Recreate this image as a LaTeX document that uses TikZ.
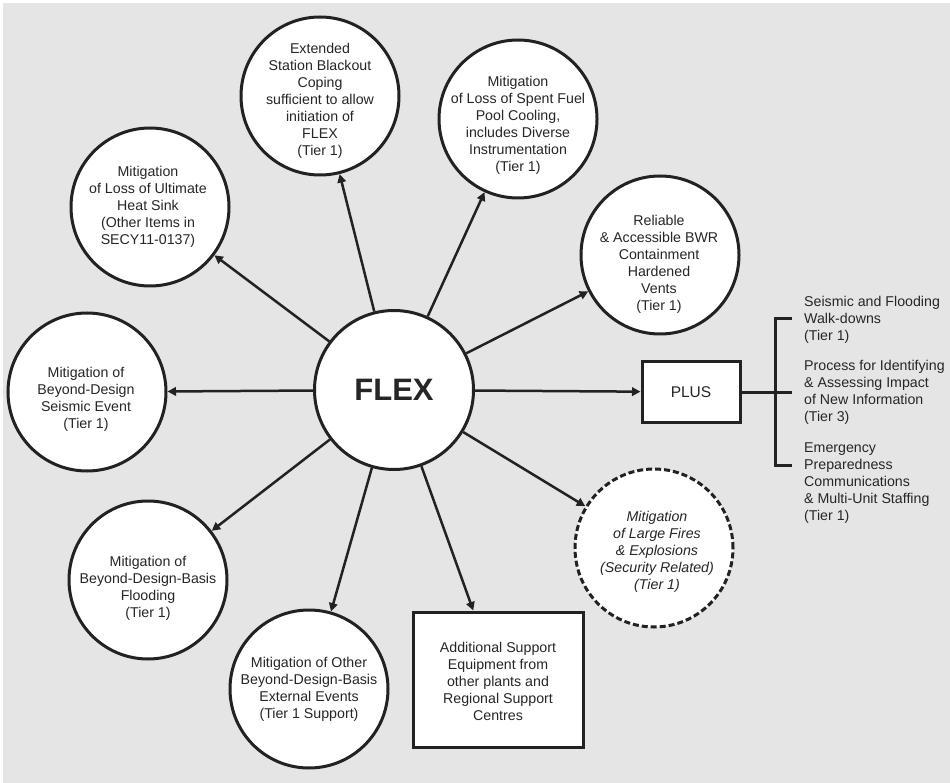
\documentclass[tikz,border=0pt]{standalone}
\usepackage{fontspec}
\setmainfont{Liberation Sans}
\usetikzlibrary{arrows.meta}
\definecolor{bg}{HTML}{E5E5E5}
\definecolor{linec}{HTML}{222222}
\definecolor{textc}{HTML}{262626}
\begin{document}
\begin{tikzpicture}[x=1pt,y=-1pt,
  circ/.style={circle, draw=linec, line width=3pt, fill=white, minimum size=158pt, inner sep=0pt},
  dcirc/.style={circ, dash pattern=on 6pt off 3pt},
  boxn/.style={rectangle, draw=linec, line width=3pt, fill=white, inner sep=0pt},
  txt/.style={font=\fontsize{14.2}{17}\selectfont, text=textc, align=center, inner sep=0pt},
  rtxt/.style={font=\fontsize{14.2}{17}\selectfont, text=textc, align=left, inner sep=0pt, anchor=north west},
  arr/.style={draw=linec, line width=2.5pt, -{Triangle[length=8.5pt,width=8.5pt]}},
  brk/.style={draw=linec, line width=3pt}
]
\useasboundingbox (0,0) rectangle (950,783);
\fill[bg] (3,3) rectangle (950,783);

% central node
\node[circ, minimum size=159pt, font=\fontsize{31}{36}\selectfont\bfseries, text=textc] (flex) at (394,390) {FLEX};

% outer circles
\node[circ] (ext) at (320,96) {};
\node[circ] (heat) at (150,207) {};
\node[circ] (seis) at (87,392) {};
\node[circ] (spent) at (518,119) {};
\node[circ] (bwr) at (660,255) {};
\node[dcirc] (fires) at (654,548) {};
\node[circ] (flood) at (148,580) {};
\node[circ] (other) at (309,689) {};
\node[boxn, minimum width=170pt, minimum height=135pt] (addl) at (498,679.5) {};
\node[boxn, minimum width=98pt, minimum height=61pt, font=\fontsize{15.5}{18}\selectfont, text=textc] (plus) at (691,392) {PLUS};

% texts
\node[txt] (ext-t) at (320,101) {Extended\\Station Blackout\\Coping\\sufficient to allow\\initiation of\\FLEX\\(Tier 1)};
\node[txt] (heat-t) at (148,207) {Mitigation\\of Loss of Ultimate\\Heat Sink\\(Other Items in\\SECY11-0137)};
\node[txt] (seis-t) at (86,399) {Mitigation of\\Beyond-Design\\Seismic Event\\(Tier 1)};
\node[txt] (spent-t) at (518,125) {Mitigation\\of Loss of Spent Fuel\\Pool Cooling,\\includes Diverse\\Instrumentation\\(Tier 1)};
\node[txt] (bwr-t) at (659,264) {Reliable\\\& Accessible BWR\\Containment\\Hardened\\Vents\\(Tier 1)};
\node[txt, font=\fontsize{14.2}{17}\selectfont\itshape] (fires-t) at (657,552) {Mitigation\\of Large Fires\\\& Explosions\\(Security Related)\\(Tier 1)};
\node[txt] (flood-t) at (148,588) {Mitigation of\\Beyond-Design-Basis\\Flooding\\(Tier 1)};
\node[txt] (other-t) at (309,689) {Mitigation of Other\\Beyond-Design-Basis\\External Events\\(Tier 1 Support)};
\node[txt] (addl-t) at (498,681) {Additional Support\\Equipment from\\other plants and\\Regional Support\\Centres};

% right side list
\node[rtxt] (r1) at (804,296.5) {Seismic and Flooding\\Walk-downs\\(Tier 1)};
\node[rtxt] (r2) at (804,360.5) {Process for Identifying\\\& Assessing Impact\\of New Information\\(Tier 3)};
\node[rtxt] (r3) at (804,443) {Emergency\\Preparedness\\Communications\\\& Multi-Unit Staffing\\(Tier 1)};

% arrows
\draw[arr] (flex) -- (ext);
\draw[arr] (flex) -- (heat);
\draw[arr] (flex) -- (seis);
\draw[arr] (flex) -- (spent);
\draw[arr] (flex) -- (bwr);
\draw[arr] (flex) -- (plus);
\draw[arr] (flex) -- (fires);
\draw[arr] (flex) -- (flood);
\draw[arr] (flex) -- (other);
\draw[arr] (flex) -- (addl);

% bracket
\coordinate (b1) at (792,319);
\coordinate (b2) at (792,392);
\coordinate (b3) at (792,465);
\coordinate (bt) at (775,319);
\coordinate (bb) at (775,465);
\draw[brk] (b1) -- (bt) -- (bb) -- (b3);
\draw[brk] (plus.east) -- (b2);
\end{tikzpicture}
\end{document}
